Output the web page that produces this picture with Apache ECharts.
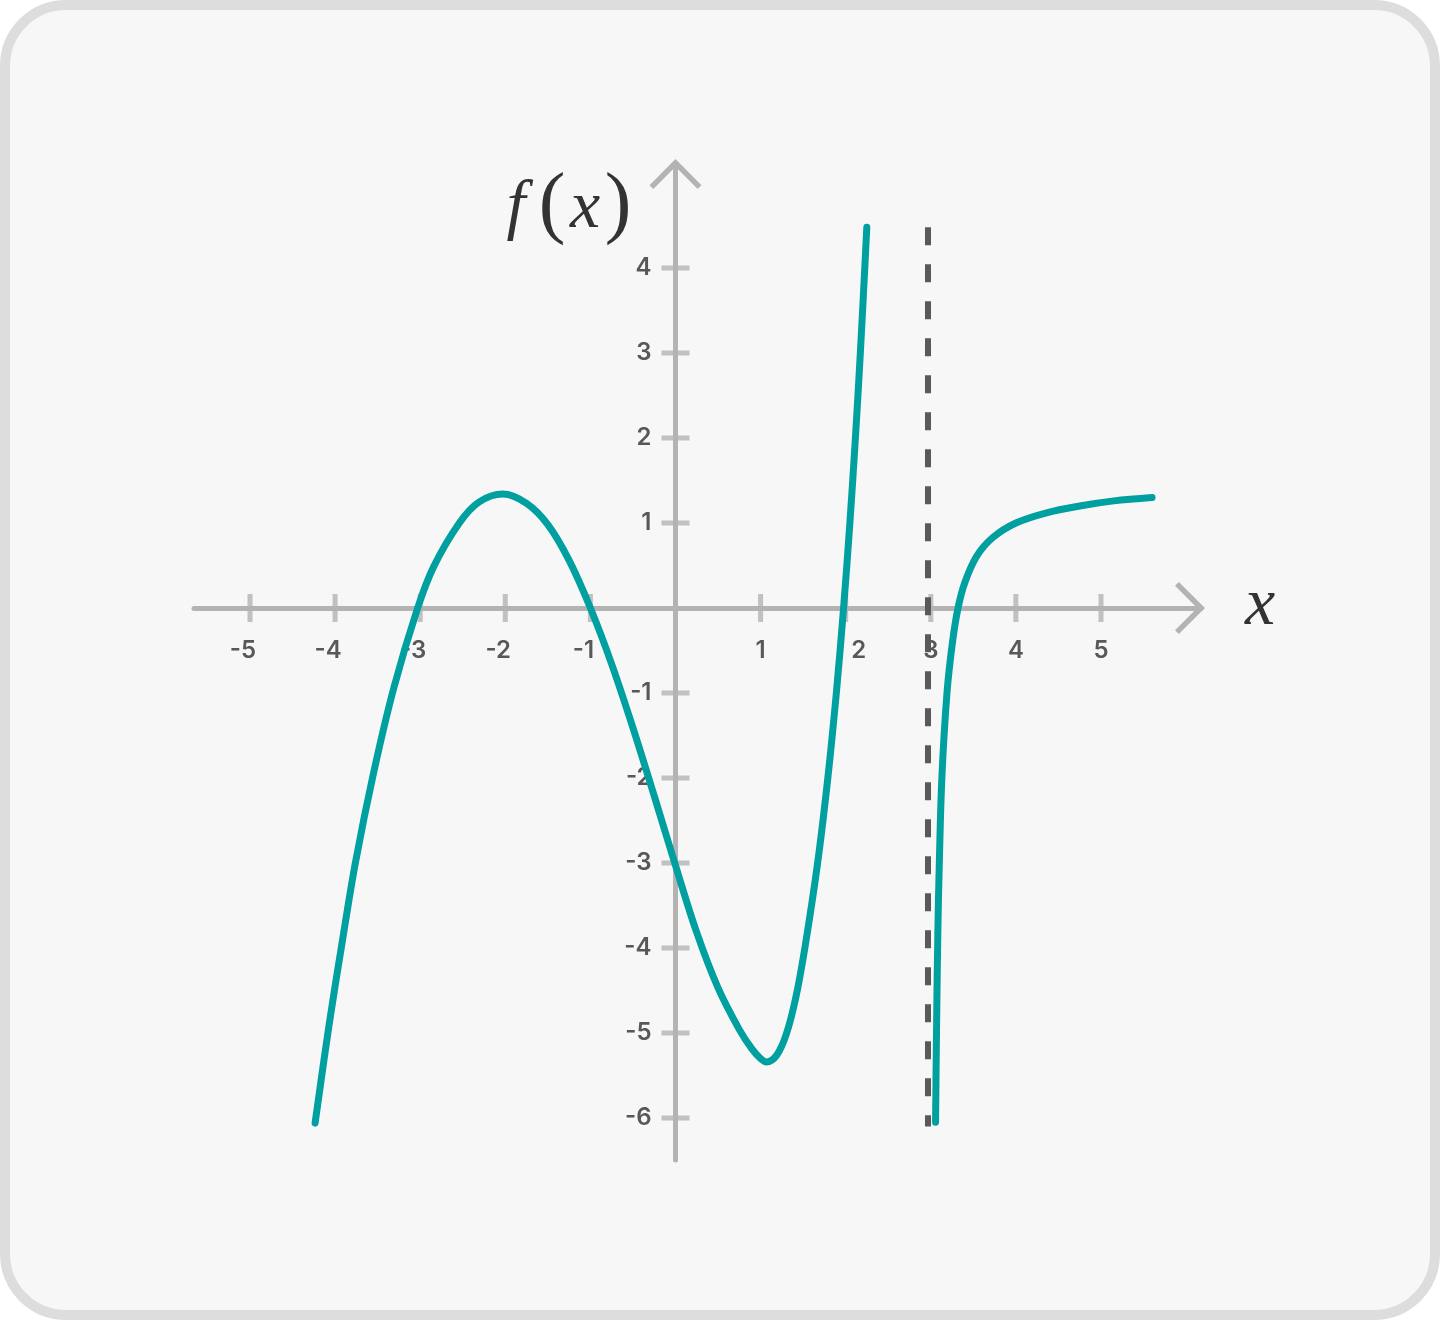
<!DOCTYPE html>
<html><head><meta charset="utf-8">
<script src="https://cdn.jsdelivr.net/npm/echarts@6/dist/echarts.min.js"></script>
<style>
html,body{margin:0;padding:0;width:1440px;height:1320px;background:#ffffff;overflow:hidden}
#card{position:absolute;left:0;top:0;width:1440px;height:1320px;box-sizing:border-box;border:10px solid #dddddd;border-radius:66px;background:#f7f7f7}
#chart{position:absolute;left:0;top:0;width:1440px;height:1320px}
</style></head><body>
<div id="card"></div><div id="chart"></div>
<script>
// ---- data ----
const leftBranchX = [-4.235, -4.07, -3.91, -3.76, -3.55, -3.31, -3.03, -2.84, -2.54, -2.31, -2.03, -1.75, -1.50, -1.25, -1.00, -0.75, -0.50, -0.25, 0.00, 0.25, 0.50, 0.75, 0.90, 1.00, 1.07, 1.19, 1.30, 1.41, 1.52, 1.67, 1.79, 1.89, 1.975, 2.049, 2.114, 2.172, 2.224, 2.248];
const leftBranchY = [-6.06, -4.90, -3.89, -2.99, -1.95, -0.94, 0.00, 0.49, 1.00, 1.245, 1.34, 1.23, 0.98, 0.56, 0.00, -0.66, -1.41, -2.21, -3.03, -3.82, -4.47, -4.96, -5.19, -5.30, -5.34, -5.26, -5.02, -4.60, -4.00, -3.00, -2.00, -1.00, 0.00, 1.00, 2.00, 3.00, 4.00, 4.48];
const rightBranchX = [3.056, 3.068, 3.083, 3.10, 3.13, 3.19, 3.255, 3.32, 3.40, 3.54, 3.73, 4.00, 4.36, 4.75, 5.15, 5.60];
const rightBranchY = [-6.05, -4.90, -3.80, -3.00, -2.00, -1.00, -0.40, 0.00, 0.30, 0.61, 0.83, 1.00, 1.12, 1.20, 1.26, 1.30];
const asymptoteX = 2.967;
const asymptoteY = [4.48, -6.1];
const xTicks = [-5, -4, -3, -2, -1, 1, 2, 3, 4, 5];
const yTicks = [-6, -5, -4, -3, -2, -1, 1, 2, 3, 4];
const xAxisTitle = 'x';
const yAxisTitle = ['f', '(', 'x', ')'];
const xExtent = [-5.658, 6.175];
const yExtent = [-6.494, 5.235];

// ---- styling ----
const AXIS_COLOR = '#b3b3b3';
const CURVE_COLOR = '#00a0a0';
const LABEL_COLOR = '#2f2f2f';
const TITLE_COLOR = '#333333';
const xLabelNudge = { 2: 13 };
const chevron = 'path://M0,-3.9 L25.9,22.1 L22.1,25.9 L0,3.9 L-22.1,25.9 L-25.9,22.1 Z';

const chart = echarts.init(document.getElementById('chart'), null, { renderer: 'canvas' });

function axisCfg(ext) {
  return {
    type: 'value', min: ext[0], max: ext[1],
    axisLine: { show: true, onZero: true, symbol: ['none', chevron], symbolSize: [52, 30], symbolOffset: [0, -11],
      lineStyle: { color: AXIS_COLOR, width: 5 } },
    axisTick: { show: false }, axisLabel: { show: false }, splitLine: { show: false }
  };
}

const labelFont = { color: LABEL_COLOR, fontFamily: 'Inter', fontSize: 24, fontWeight: 600 };

// title glyphs (math-style): letter / paren fonts
const glyphStyle = (ch) => {
  const paren = (ch === '(' || ch === ')');
  return { text: ch, align: 'center', verticalAlign: 'middle', fill: TITLE_COLOR,
    fontFamily: 'Liberation Serif', fontStyle: paren ? 'normal' : 'italic', fontSize: paren ? 80 : 68 };
};
const yTitleX = [516, 552, 585, 618];
const yTitleY = (ch) => (ch === '(' || ch === ')') ? 207 : 209;

chart.setOption({
  animation: false,
  backgroundColor: 'transparent',
  grid: { left: 194, right: 239, top: 163, bottom: 160, containLabel: false },
  xAxis: axisCfg(xExtent),
  yAxis: axisCfg(yExtent),
  graphic: yAxisTitle.map((ch, i) => ({ type: 'text', x: yTitleX[i], y: yTitleY(ch), z: 10, style: glyphStyle(ch) }))
    .concat([{ type: 'text', x: 1260, y: 606, z: 10, style: glyphStyle(xAxisTitle) }]),
  series: [
    { type: 'scatter', silent: true, z: 1, symbol: 'rect', symbolSize: [5, 28],
      itemStyle: { color: AXIS_COLOR },
      data: xTicks.map(v => ({ value: [v, 0], label: { offset: [(v < 0 ? -7 : 0) + (xLabelNudge[v] || 0), 0] } })),
      label: Object.assign({ show: true, position: 'bottom', distance: 17, formatter: p => String(p.value[0]) }, labelFont),
      emphasis: { disabled: true } },
    { type: 'scatter', silent: true, z: 1, symbol: 'rect', symbolSize: [28, 5],
      itemStyle: { color: AXIS_COLOR },
      data: yTicks.map(v => ({ value: [0, v] })),
      label: Object.assign({ show: true, position: 'left', distance: 10, formatter: p => String(p.value[1]) }, labelFont),
      emphasis: { disabled: true } },
    { type: 'line', silent: true, z: 2, showSymbol: false, symbol: 'none',
      data: asymptoteY.map(y => [asymptoteX, y]),
      lineStyle: { color: '#595959', width: 6, type: [18, 19], cap: 'butt' } },
    { type: 'line', silent: true, z: 3, showSymbol: false, symbol: 'none', smooth: 0.35,
      data: leftBranchX.map((x, i) => [x, leftBranchY[i]]),
      lineStyle: { color: CURVE_COLOR, width: 7, cap: 'round', join: 'round' } },
    { type: 'line', silent: true, z: 3, showSymbol: false, symbol: 'none', smooth: 0.35,
      data: rightBranchX.map((x, i) => [x, rightBranchY[i]]),
      lineStyle: { color: CURVE_COLOR, width: 7, cap: 'round', join: 'round' } }
  ]
});
</script>
</body></html>
